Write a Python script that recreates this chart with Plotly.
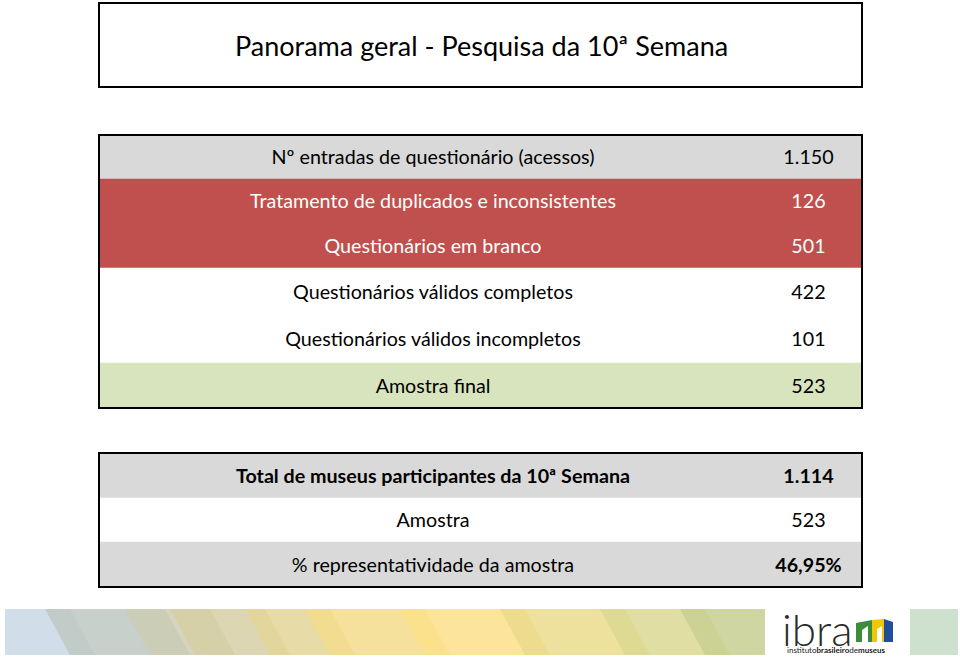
import plotly.graph_objects as go

# ---------------- data ----------------
title_text = "Panorama geral - Pesquisa da 10ª Semana"

labels_t1 = [
    "Nº entradas de questionário (acessos)",
    "Tratamento de duplicados e inconsistentes",
    "Questionários em branco",
    "Questionários válidos completos",
    "Questionários válidos incompletos",
    "Amostra final",
]
values_t1 = ["1.150", "126", "501", "422", "101", "523"]

labels_t2 = [
    "Total de museus participantes da 10ª Semana",
    "Amostra",
    "% representatividade da amostra",
]
values_t2 = ["1.114", "523", "46,95%"]
bold_labels_t2 = [True, False, False]
bold_values_t2 = [True, False, True]

# ---------------- styles / layout ----------------
W, H = 960, 658
LEFT, RIGHT = 99, 862
LABEL_X, VALUE_X = 433, 808.5
FONT = "Lato"
TSIZE = 19.7
TEXT_DY = 2.5

GRAY = "#D9D9D9"
RED = "#C0504D"
GREEN = "#D7E4BD"
WHITE = "#FFFFFF"

t1_top = 135
t1_heights = [44, 44, 45, 47, 48, 45]
t1_colors = [GRAY, RED, RED, WHITE, WHITE, GREEN]
t1_text_colors = ["#000000", "#FFFFFF", "#FFFFFF", "#000000", "#000000", "#000000"]

t2_top = 453
t2_heights = [45, 44, 45]
t2_colors = [GRAY, WHITE, GRAY]


def centers(top, heights):
    out, y = [], top
    for h in heights:
        out.append(y + h / 2)
        y += h
    return out


t1_c = centers(t1_top, t1_heights)
t2_c = centers(t2_top, t2_heights)

fig = go.Figure()

# Row backgrounds as horizontal bars
for c, hts, cols in [(t1_c, t1_heights, t1_colors), (t2_c, t2_heights, t2_colors)]:
    fig.add_trace(go.Bar(
        orientation="h", y=c, x=[RIGHT - LEFT] * len(c), base=[LEFT] * len(c),
        width=[h + 0.6 for h in hts], marker=dict(color=cols, line=dict(width=0)),
        hoverinfo="skip", showlegend=False,
    ))

# Table 1 texts
for xs, txt in [(LABEL_X, labels_t1), (VALUE_X, values_t1)]:
    fig.add_trace(go.Scatter(
        x=[xs] * len(txt), y=[c + TEXT_DY for c in t1_c], mode="text", text=txt,
        textposition="middle center",
        textfont=dict(family=FONT, size=TSIZE, color=t1_text_colors),
        hoverinfo="skip", showlegend=False,
    ))

# Table 2 texts
lbl2 = [f"<b>{t}</b>" if b else t for t, b in zip(labels_t2, bold_labels_t2)]
val2 = [f"<b>{t}</b>" if b else t for t, b in zip(values_t2, bold_values_t2)]
for xs, txt in [(LABEL_X, lbl2), (VALUE_X, val2)]:
    fig.add_trace(go.Scatter(
        x=[xs] * len(txt), y=[c + TEXT_DY for c in t2_c], mode="text", text=txt,
        textposition="middle center",
        textfont=dict(family=FONT, size=TSIZE, color="#000000"),
        hoverinfo="skip", showlegend=False,
    ))

shapes = []
# Borders
for y0, y1 in [(3, 87), (t1_top, t1_top + sum(t1_heights)), (t2_top, t2_top + sum(t2_heights))]:
    shapes.append(dict(type="rect", xref="x", yref="y", x0=LEFT, x1=RIGHT, y0=y0, y1=y1,
                       line=dict(color="#000000", width=2), fillcolor="rgba(0,0,0,0)",
                       layer="above"))

# Decorative footer banner
banner = [
    (5, 70, "#C9D8E6"), (45, 165, "#BEC8C2"), (125, 210, "#CDCDB4"),
    (170, 265, "#D6CFA5"), (245, 330, "#E3D698"), (305, 425, "#F3DC8B"),
    (400, 525, "#FCE089"), (500, 625, "#EBDA8C"), (600, 705, "#DAD892"),
    (680, 765, "#C8CF92"),
]
bt, bb = 609, 655
for x0, x1, col in banner:
    path = f"M {x0} {bt} L {x1} {bt} L {min(x1 + 25, 765)} {bb} L {x0 + 25 if x0 > 5 else 5} {bb} Z"
    shapes.append(dict(type="path", xref="x", yref="y", path=path, fillcolor=col,
                       opacity=0.85, line=dict(width=0), layer="below"))
shapes.append(dict(type="path", xref="x", yref="y",
                   path=f"M 910 {bt} L 958 {bt} L 958 {bb} L 910 {bb} Z",
                   fillcolor="#C9DEC9", opacity=0.9, line=dict(width=0), layer="below"))
# logo "m" colour blocks
shapes += [
    dict(type="path", xref="x", yref="y", path="M 856 623 L 872 620 L 872 642 L 856 642 Z",
         fillcolor="#3C8C3A", line=dict(width=0)),
    dict(type="path", xref="x", yref="y", path="M 872 620 L 884 619 L 884 642 L 872 642 Z",
         fillcolor="#F2C600", line=dict(width=0)),
    dict(type="path", xref="x", yref="y", path="M 884 619 L 893 622 L 893 642 L 884 642 Z",
         fillcolor="#1F4E9C", line=dict(width=0)),
    dict(type="path", xref="x", yref="y", path="M 862 630 L 868 626 L 868 642 L 862 642 Z",
         fillcolor="#FFFFFF", line=dict(width=0)),
    dict(type="path", xref="x", yref="y", path="M 877 629 L 882 626 L 882 642 L 877 642 Z",
         fillcolor="#FFFFFF", line=dict(width=0)),
]

annotations = [
    dict(x=481.5, y=45, xref="x", yref="y", text=title_text, showarrow=False,
         font=dict(family=FONT, size=27, color="#000000")),
    dict(x=817, y=629, xref="x", yref="y", text="ibra", showarrow=False,
         font=dict(family=FONT, size=44, color="#2B2B2B", weight=300)),
    dict(x=836, y=650, xref="x", yref="y",
         text="instituto<b>brasileiro</b>de<b>museus</b>", showarrow=False,
         font=dict(family=FONT, size=8, color="#222222")),
]

fig.update_layout(
    width=W, height=H, margin=dict(l=0, r=0, t=0, b=0),
    paper_bgcolor="#FFFFFF", plot_bgcolor="#FFFFFF",
    xaxis=dict(range=[0, W], visible=False, fixedrange=True),
    yaxis=dict(range=[H, 0], visible=False, fixedrange=True),
    shapes=shapes, annotations=annotations, barmode="overlay",
    showlegend=False,
)

fig.write_html(
    "out.html",
    config={"displayModeBar": False},
    post_script="document.body.style.margin='0';document.body.style.overflow='hidden';",
)
